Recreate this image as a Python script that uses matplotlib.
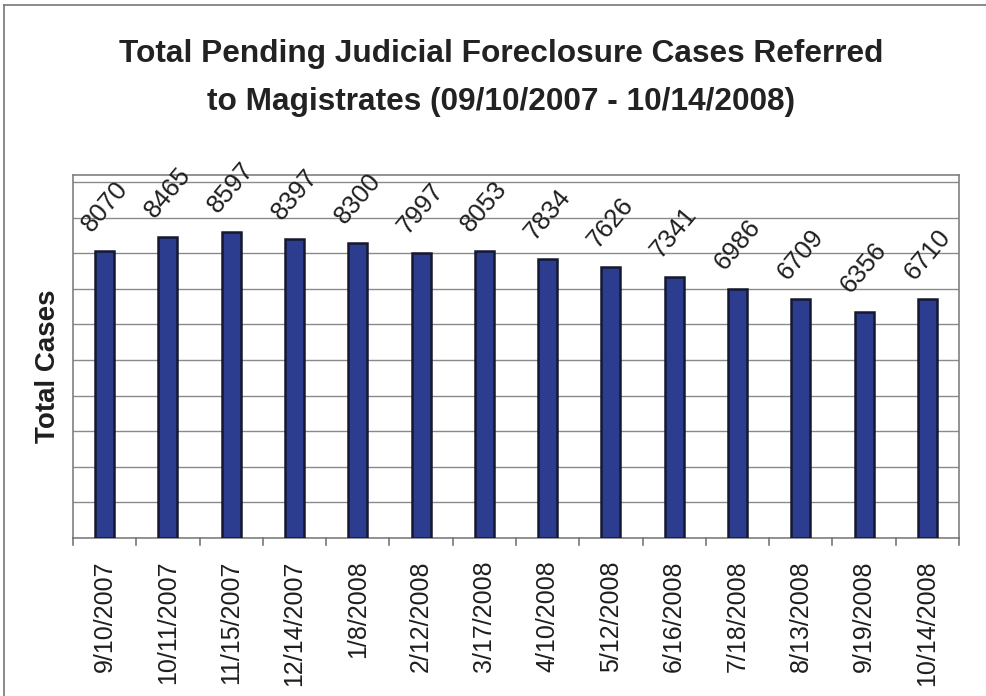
import matplotlib
matplotlib.use("Agg")
import matplotlib.pyplot as plt
from matplotlib.lines import Line2D

dates = ["9/10/2007", "10/11/2007", "11/15/2007", "12/14/2007", "1/8/2008",
         "2/12/2008", "3/17/2008", "4/10/2008", "5/12/2008", "6/16/2008",
         "7/18/2008", "8/13/2008", "9/19/2008", "10/14/2008"]
cases = [8070, 8465, 8597, 8397, 8300, 7997, 8053, 7834, 7626, 7341,
         6986, 6709, 6356, 6710]

plt.rcParams["font.family"] = ["Liberation Sans", "DejaVu Sans"]

W, H = 987, 696
fig = plt.figure(figsize=(W / 100, H / 100), dpi=100)
fig.patch.set_facecolor("white")

# outer chart border (left and top edges visible)
fig.add_artist(Line2D([4 / W, 4 / W], [0, 1 - 5 / H], color="#777777", lw=1.2))
fig.add_artist(Line2D([4 / W, 1], [1 - 5 / H, 1 - 5 / H], color="#777777", lw=1.2))

left, right, top, bottom = 73, 959, 175, 538
ax = fig.add_axes([left / W, 1 - bottom / H, (right - left) / W, (bottom - top) / H])

x = list(range(len(dates)))
ax.bar(x, cases, width=0.30, color="#2C3D8F", edgecolor="#15182E", linewidth=1.8, zorder=3)

ax.set_xlim(-0.5, len(dates) - 0.5)
ax.set_ylim(0, 10200)
ax.set_yticks(range(0, 10001, 1000))
ax.set_yticklabels([])
ax.tick_params(axis="y", length=0)
ax.grid(axis="y", color="#8A8A8A", linewidth=1.0, zorder=0)

ax.set_xticks(x)
ax.set_xticklabels(dates, rotation=90, fontsize=18, color="#1E1E1E")
ax.tick_params(axis="x", length=0, pad=16)
# category separator ticks below the axis
for b in [i - 0.5 for i in range(len(dates) + 1)]:
    ax.plot([b, b], [0, -200], color="#777777", lw=1.2, clip_on=False, zorder=4)

for s in ax.spines.values():
    s.set_color("#808080")
    s.set_linewidth(1.2)

for xi, v in zip(x, cases):
    ax.annotate(str(v), (xi, v), xytext=(0, 32), textcoords="offset points",
                rotation=50, ha="center", va="center", fontsize=18.5,
                color="#1E1E1E", rotation_mode="anchor", annotation_clip=False)

fig.text(48 / W, 1 - 366 / H, "Total Cases", rotation=90, ha="center", va="center",
         fontsize=20, fontweight="bold", color="#1E1E1E")

fig.text(501 / W, 1 - 62 / H, "Total Pending Judicial Foreclosure Cases Referred",
         ha="center", va="baseline", fontsize=22.8, fontweight="bold", color="#222222")
fig.text(501 / W, 1 - 110 / H, "to Magistrates (09/10/2007 - 10/14/2008)",
         ha="center", va="baseline", fontsize=22.8, fontweight="bold", color="#222222")

fig.savefig("out.png", dpi=100, facecolor="white")
